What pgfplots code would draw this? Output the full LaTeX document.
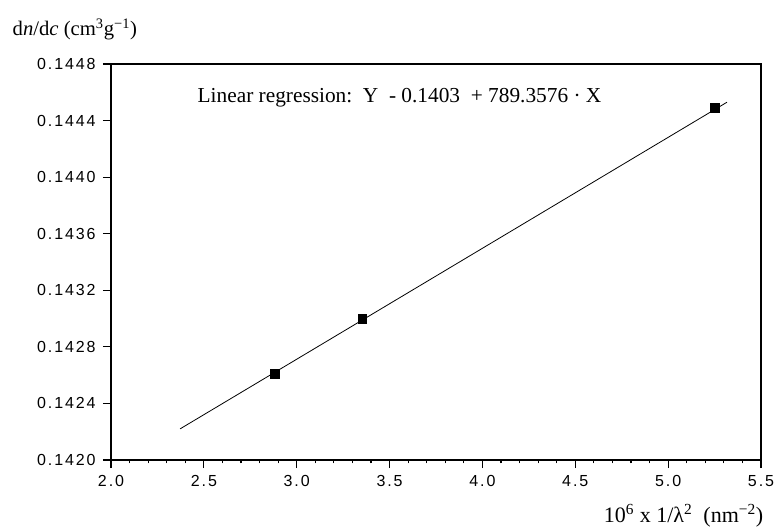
\documentclass[border=0pt]{standalone}
\usepackage{pgfplots}
\pgfplotsset{compat=1.18}
\usepackage{fontspec}
\setmainfont{Liberation Serif}
\setsansfont{Liberation Sans}
\newfontfamily\ticksf[LetterSpace=12]{Liberation Sans}
\begin{document}
\begin{tikzpicture}
\useasboundingbox (-83.25pt,-51.75pt) rectangle (497.25pt,345pt);
\begin{axis}[
  at={(0,0)}, anchor=south west,
  scale only axis,
  width=487.5pt, height=297pt,
  xmin=2.0, xmax=5.5, ymin=0.1420, ymax=0.1448,
  xtick={2.0,2.5,...,5.5},
  ytick={0.1420,0.1424,...,0.1448},
  minor x tick num=4,
  minor y tick num=3,
  xtick pos=bottom, ytick pos=left,
  tick align=outside,
  major tick length=6pt, minor tick length=2.5pt,
  every tick/.style={black, line width=0.8pt},
  axis line style={line width=1pt},
  /pgf/number format/assume math mode=true,
  xticklabel style={font=\ticksf\fontsize{12}{14}\selectfont, yshift=-2pt, /pgf/number format/.cd, fixed, fixed zerofill, precision=1},
  yticklabel style={font=\ticksf\fontsize{12}{14}\selectfont, xshift=-2pt, /pgf/number format/.cd, fixed, fixed zerofill, precision=4},
  scaled y ticks=false,
  scaled x ticks=false,
  clip=false,
]
\addplot[black, line width=0.6pt, no marks] coordinates {(2.372,0.14222) (5.317,0.14453)};
\addplot[black, only marks, mark=square*, mark size=3.2pt] coordinates {(2.883,0.14261) (3.352,0.14300) (5.252,0.14449)};
\end{axis}
\node[anchor=west, font=\fontsize{15.5}{17}\selectfont] at (-77.25pt,323.25pt) {d\textit{n}/d\textit{c} (cm\textsuperscript{3}g\textsuperscript{−1})};
\node[anchor=west, font=\fontsize{16}{18}\selectfont] at (61.5pt,272pt) {Linear regression:\ \ Y\ \ - 0.1403\ \ + 789.3576 · X};
\node[anchor=east, font=\fontsize{16.5}{18}\selectfont] at (492.75pt,-42pt) {10\textsuperscript{6} x 1/λ\textsuperscript{2}\ \ (nm\textsuperscript{−2})};
\end{tikzpicture}
\end{document}
